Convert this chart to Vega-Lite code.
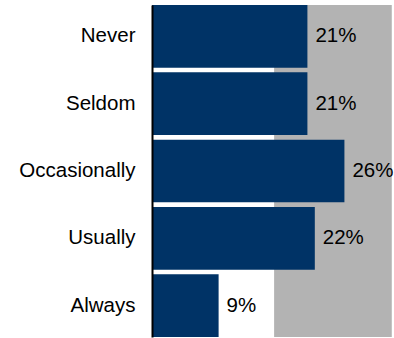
{
  "$schema": "https://vega.github.io/schema/vega-lite/v6.json",
  "width": 242,
  "height": 332,
  "autosize": "none",
  "padding": {"left": 152, "top": 5, "right": 0, "bottom": 1},
  "background": "white",
  "config": {"view": {"stroke": null}, "font": "Liberation Sans"},
  "datasets": {
    "bars": [
      {"category": "Never", "value": 0.21},
      {"category": "Seldom", "value": 0.21},
      {"category": "Occasionally", "value": 0.26},
      {"category": "Usually", "value": 0.22},
      {"category": "Always", "value": 0.09}
    ],
    "band": [{"start": 0.165, "end": 0.324}]
  },
  "layer": [
    {
      "data": {"name": "band"},
      "mark": {"type": "rect", "color": "#b3b3b3"},
      "encoding": {
        "x": {"field": "start", "type": "quantitative", "scale": {"domain": [0, 0.327], "nice": false, "zero": true}, "axis": null},
        "x2": {"field": "end"}
      }
    },
    {
      "data": {"name": "bars"},
      "mark": {"type": "bar", "color": "#003366"},
      "encoding": {
        "y": {
          "field": "category", "type": "nominal", "sort": null,
          "scale": {"paddingInner": 0.07, "paddingOuter": 0.0},
          "axis": {"title": null, "ticks": false, "zindex": 1, "domainColor": "black", "domainWidth": 2, "labelFontSize": 20.5, "labelColor": "black", "labelPadding": 17, "labelFont": "Liberation Sans"}
        },
        "x": {"field": "value", "type": "quantitative", "axis": null}
      }
    },
    {
      "data": {"name": "bars"},
      "mark": {"type": "text", "align": "left", "baseline": "middle", "dx": 8, "fontSize": 20.5, "color": "black", "font": "Liberation Sans"},
      "encoding": {
        "y": {"field": "category", "type": "nominal", "sort": null},
        "x": {"field": "value", "type": "quantitative"},
        "text": {"field": "value", "type": "quantitative", "format": ".0%"}
      }
    }
  ]
}
